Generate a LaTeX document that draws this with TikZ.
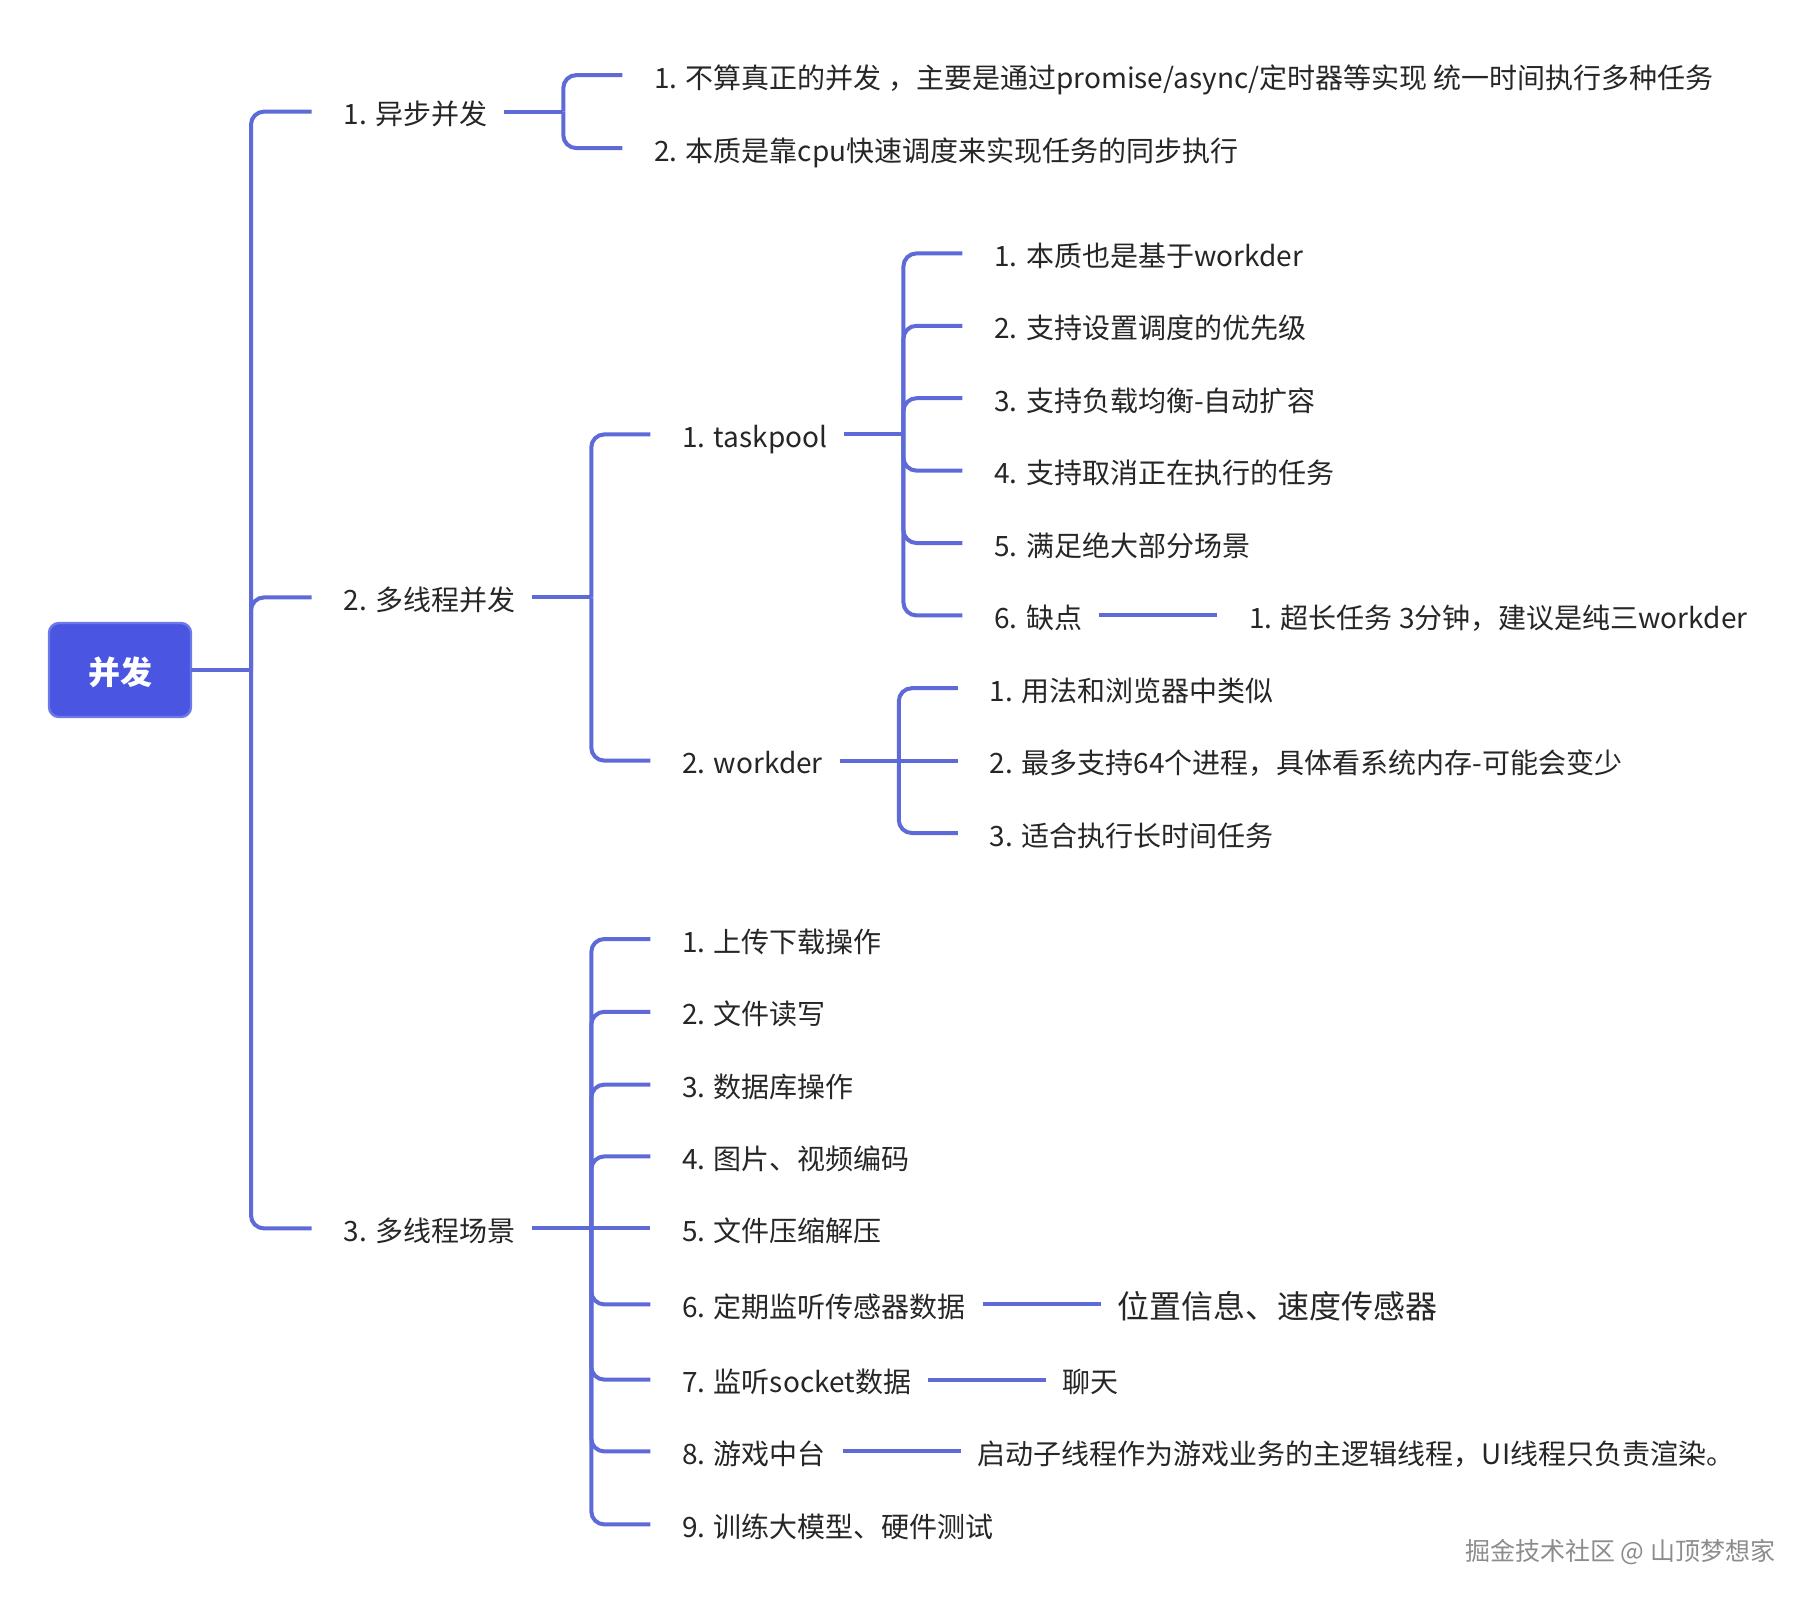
\documentclass[tikz,border=0pt]{standalone}
\usepackage{fontspec}
\setmainfont{Noto Sans CJK SC}
\usetikzlibrary{positioning}
\definecolor{linkblue}{RGB}{94,106,216}
\definecolor{rootblue}{RGB}{74,86,226}
\definecolor{textgray}{RGB}{38,38,38}

\begin{document}
\begin{tikzpicture}[x=0.5pt,y=-0.5pt,
  every node/.style={inner sep=0pt,outer sep=0pt},
  topic/.style={anchor=west,text=textgray,font=\fontsize{14}{17}\selectfont,text height=13pt,text depth=0pt},
  big topic/.style={topic,font=\fontsize{16}{19}\selectfont,text height=14pt},
  root/.style={fill=rootblue,draw=rootblue!80!white,line width=1.2pt,rounded corners=5pt,
    minimum width=71pt,minimum height=47pt,text=white,font=\fontsize{16}{19}\selectfont\bfseries,
    text height=14.5pt,text depth=0pt},
  link/.style={draw=linkblue,line width=2pt,rounded corners=6.5pt}]
\useasboundingbox (0,0) rectangle (1814,1602);

\node[root] (root) at (120,670) {并发};

% first level
\node[topic,right=76.3pt of root,yshift=279.2pt] (async) {1. 异步并发};
\node[topic,right=76.3pt of root,yshift=36.3pt] (multi) {2. 多线程并发};
\node[topic,right=76.3pt of root,yshift=-279.2pt] (scene) {3. 多线程场景};

% second level
\foreach \t [count=\i] in {{不算真正的并发 ，主要是通过promise/async/定时器等实现 统一时间执行多种任务},
    {本质是靠cpu快速调度来实现任务的同步执行}}
  \node[topic,right=83.5pt of async,yshift={(1.5-\i)*36.5pt}] (async\i) {\i. \t};

\node[topic,right=83.5pt of multi,yshift=81.5pt] (pool) {1. taskpool};
\node[topic,right=83.5pt of multi,yshift=-81.6pt] (worker) {2. workder};

\foreach \t/\d [count=\i] in {上传下载操作/144.7,文件读写/108.3,数据库操作/71.9,图片、视频编码/36,
    文件压缩解压/0,定期监听传感器数据/-38,监听socket数据/-75.6,游戏中台/-111.5,训练大模型、硬件测试/-148}
  \node[topic,right=83.5pt of scene,yshift=\d pt] (scene\i) {\i. \t};

% third level
\foreach \t [count=\i] in {本质也是基于workder,支持设置调度的优先级,支持负载均衡-自动扩容,
    支持取消正在执行的任务,满足绝大部分场景,缺点}
  \node[topic,right=83.5pt of pool,yshift={(3.5-\i)*36.2pt}] (pool\i) {\i. \t};

\foreach \t [count=\i] in {用法和浏览器中类似,{最多支持64个进程，具体看系统内存-可能会变少},适合执行长时间任务}
  \node[topic,right=83.5pt of worker,yshift={(2-\i)*36.2pt}] (worker\i) {\i. \t};

% leaves
\node[topic,right=83.5pt of pool6] (pool6a) {1. 超长任务 3分钟，建议是纯三workder};
\node[big topic,right=76pt of scene6] (scene6a) {位置信息、速度传感器};
\node[topic,right=76pt of scene7] (scene7a) {聊天};
\node[topic,right=76pt of scene8] (scene8a) {启动子线程作为游戏业务的主逻辑线程，UI线程只负责渲染。};

% connectors
\coordinate (root-fork) at ([xshift=30pt]root.east);
\draw[link] (root.east) -- (root-fork);
\foreach \n in {async,multi,scene}
  \draw[link] (root-fork) |- ([xshift=-16pt]\n.west);

\coordinate (multi-fork) at ([xshift=38pt]multi.east);
\draw[link] ([xshift=8.5pt]multi.east) -- (multi-fork);
\foreach \n in {pool,worker}
  \draw[link] (multi-fork) |- ([xshift=-16pt]\n.west);

\foreach \p/\kids in {async/{1,2},pool/{1,...,6},worker/{1,3},scene/{1,2,3,4,6,7,8,9}} {
  \coordinate (\p-fork) at ([xshift=38pt]\p.east);
  \draw[link] ([xshift=8.5pt]\p.east) -- (\p-fork);
  \foreach \i in \kids
    \draw[link] (\p-fork) |- ([xshift=-16pt]\p\i.west);
}
\draw[link] (worker-fork) -- ([xshift=-16pt]worker2.west);
\draw[link] (scene-fork) -- ([xshift=-16pt]scene5.west);

\foreach \a/\b/\g in {pool6/pool6a/16pt,scene6/scene6a/8.5pt,scene7/scene7a/8.5pt,scene8/scene8a/8.5pt}
  \draw[link] ([xshift=8.5pt]\a.east) -- ([xshift=-\g]\b.west);

\node[anchor=east,text=black!45,font=\fontsize{12.5}{15}\selectfont] (mark) at (1775,1552) {掘金技术社区 @ 山顶梦想家};
\end{tikzpicture}
\end{document}
